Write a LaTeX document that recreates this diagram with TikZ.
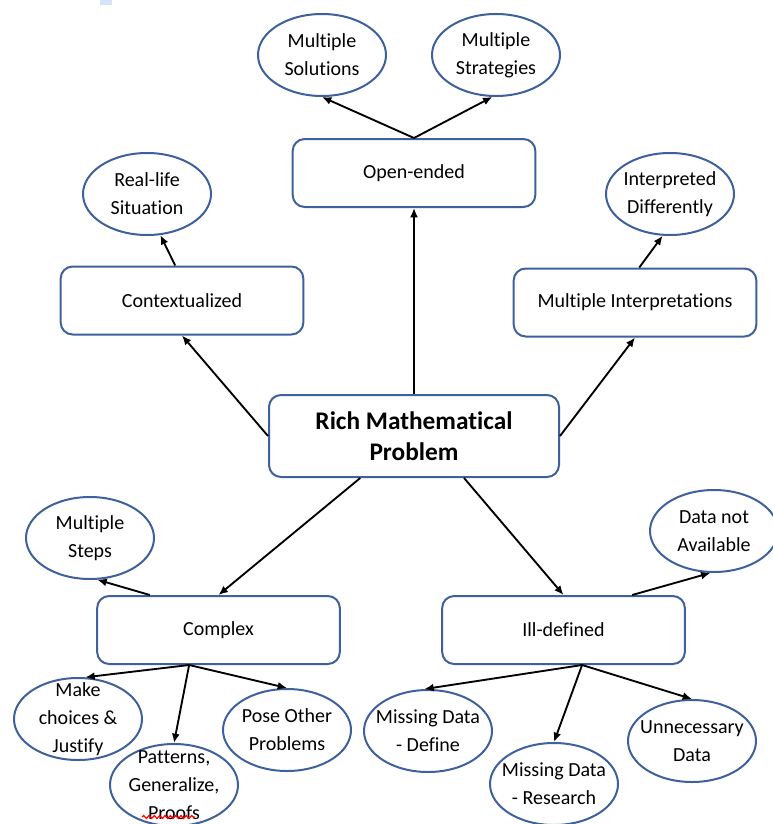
\documentclass[tikz,border=0pt]{standalone}
\usepackage{fontspec}
\setmainfont[Ligatures=NoCommon]{Carlito}
\usetikzlibrary{shapes.geometric,arrows.meta,decorations.pathmorphing}
\definecolor{outline}{RGB}{62,96,156}
\definecolor{tabmark}{RGB}{214,228,250}

\begin{document}
\begin{tikzpicture}[x=0.75pt, y=-0.75pt,
		box/.style={draw=outline, line width=1.5pt, rounded corners=9pt, fill=white, minimum width=182pt, minimum height=51pt, align=center, font=\fontsize{15}{22}\selectfont},
		oval/.style={ellipse, draw=outline, line width=1.5pt, minimum width=96pt, minimum height=61.5pt, inner xsep=-8pt, inner ysep=-10pt, align=center, font=\fontsize{15}{21}\selectfont},
		link/.style={-{Latex[length=7pt,width=6pt]}, line width=1.4pt}]
			\useasboundingbox (0,0) rectangle (773,824);
			\fill [tabmark] (100,0) rectangle (112,5);
			% boxes
			\node [box, minimum width=217.5pt, minimum height=61.5pt, font=\bfseries\fontsize{19}{23}\selectfont] (main) at (414,436) {Rich Mathematical\\Problem};
			\node [box] (open) at (414,173) {Open-ended};
			\node [box] (ctx) at (182,300.5) {Contextualized};
			\node [box] (interp) at (635,302.5) {Multiple Interpretations};
			\node [box] (cpx) at (218.5,630) {Complex};
			\node [box] (ill) at (563.5,630) {Ill-defined};
			% ovals
			\node [oval] (sol) at (322,55) {Multiple\\Solutions};
			\node [oval] (strat) at (496,55) {Multiple\\Strategies};
			\node [oval] (real) at (147,194) {Real-life\\Situation};
			\node [oval] (diff) at (670,194) {Interpreted\\Differently};
			\node [oval] (steps) at (90,538) {Multiple\\Steps};
			\node [oval] (avail) at (714,531) {Data not\\Available};
			\node [oval] (choose) at (78,719) {Make\\choices \&\\Justify};
			\node [oval] (pattern) at (174,785) {Patterns,\\Generalize,\\Proofs};
			\node [oval] (pose) at (287,730) {Pose Other\\Problems};
			\node [oval] (define) at (428,731) {Missing Data\\- Define};
			\node [oval] (research) at (554,784) {Missing Data\\- Research};
			\node [oval] (extra) at (692,741) {Unnecessary\\Data};
			\draw [red, line width=0.9pt, decorate, decoration={snake, amplitude=1.1pt, segment length=4pt}] (142,817) -- (195,817);
			% arrows
			\draw [link] (main.north) -- (open.south);
			\draw [link] (main.west) -- (ctx.south);
			\draw [link] (main.east) -- (interp.south);
			\draw [link] (main.218) -- (cpx.north);
			\draw [link] (main.320) -- (ill.north);
			\draw [link] (open.north) -- (sol.south);
			\draw [link] (open.north) -- (strat.265);
			\draw [link] (ctx.101) -- (real.288);
			\draw [link] (interp.83) -- (diff.260);
			\draw [link] (cpx.153) -- (steps.280);
			\draw [link] (ill.27) -- (avail.265);
			\foreach \leaf/\at in {choose/80, pattern/90, pose/90} \draw [link] (cpx.230) -- (\leaf.\at);
			\foreach \leaf/\at in {define/95, research/90, extra/90} \draw [link] (ill.298) -- (\leaf.\at);
		\end{tikzpicture}
\end{document}
